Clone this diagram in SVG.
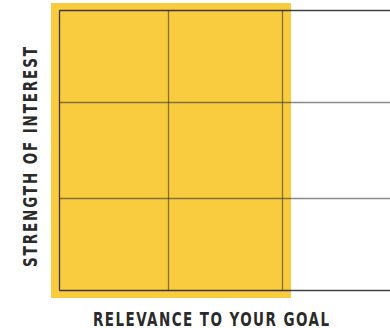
<svg xmlns="http://www.w3.org/2000/svg" width="390" height="328" viewBox="0 0 390 328">
<style>
.outer{stroke:#1e1e1e;stroke-opacity:0.85;stroke-width:1.3;fill:none}
.inner{stroke:#2a2a2a;stroke-opacity:0.55;stroke-width:1.3;fill:none}
.lbl{font-family:"DejaVu Sans Condensed","DejaVu Sans",sans-serif;font-weight:bold;font-size:15px;fill:#2a2a2a}
</style>
<rect id="highlight" x="51" y="3" width="240" height="295" fill="#F9CB3F"/>
<g id="grid">
<line class="outer" x1="59.5" y1="10.5" x2="390" y2="10.5"/>
<line class="outer" x1="59.5" y1="290.5" x2="390" y2="290.5"/>
<line class="outer" x1="59.5" y1="10.5" x2="59.5" y2="290.5"/>
<line class="inner" x1="59.5" y1="102.5" x2="390" y2="102.5"/>
<line class="inner" x1="59.5" y1="198.5" x2="390" y2="198.5"/>
<line class="inner" x1="168.5" y1="10.5" x2="168.5" y2="290.5"/>
<line class="inner" x1="282.5" y1="10.5" x2="282.5" y2="290.5"/>
</g>
<g id="labels">
<text class="lbl" transform="translate(93,325.5) scale(1,1.25)" x="0" y="0" textLength="236" lengthAdjust="spacing">RELEVANCE TO YOUR GOAL</text>
<text class="lbl" transform="translate(36.5,267) rotate(-90) scale(1,1.25)" x="0" y="0" textLength="220" lengthAdjust="spacing">STRENGTH OF INTEREST</text>
</g>
</svg>
